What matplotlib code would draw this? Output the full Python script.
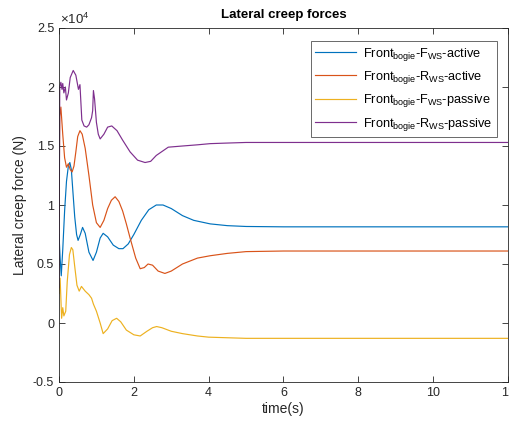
import numpy as np
import matplotlib
matplotlib.use('Agg')
import matplotlib.pyplot as plt

plt.rcParams['font.family'] = ['Liberation Sans', 'DejaVu Sans']
plt.rcParams['mathtext.fontset'] = 'custom'
plt.rcParams['mathtext.rm'] = 'Liberation Sans'
plt.rcParams['mathtext.it'] = 'Liberation Sans'
plt.rcParams['axes.unicode_minus'] = False

# values in units of 1e4 N
t_f_act = [0, 0.03, 0.06, 0.1, 0.15, 0.2, 0.25, 0.29, 0.33, 0.37, 0.42, 0.47, 0.51, 0.57,
           0.63, 0.7, 0.8, 0.91, 1.0, 1.1, 1.18, 1.3, 1.45, 1.6, 1.71, 1.85, 2.0, 2.2, 2.4,
           2.6, 2.78, 3.0, 3.3, 3.6, 4.04, 4.5, 5.0, 6, 8, 10, 12]
f_act = [0.75, 0.55, 0.40, 0.62, 0.95, 1.2, 1.33, 1.36, 1.30, 1.12, 0.90, 0.75, 0.70, 0.75,
         0.81, 0.76, 0.60, 0.53, 0.60, 0.72, 0.76, 0.73, 0.66, 0.63, 0.63, 0.67, 0.75, 0.87, 0.96,
         1.0, 1.0, 0.97, 0.91, 0.87, 0.84, 0.825, 0.818, 0.815, 0.815, 0.815, 0.815]

t_r_act = [0, 0.02, 0.05, 0.1, 0.15, 0.2, 0.25, 0.3, 0.35, 0.4, 0.45, 0.5, 0.56, 0.62, 0.7,
           0.8, 0.9, 1.0, 1.1, 1.2, 1.3, 1.4, 1.5, 1.6, 1.7, 1.8, 1.9, 2.05, 2.17, 2.28, 2.38,
           2.5, 2.65, 2.83, 3.0, 3.3, 3.7, 4.04, 4.5, 5.0, 6, 8, 10, 12]
r_act = [0.9, 1.75, 1.83, 1.6, 1.4, 1.32, 1.35, 1.30, 1.28, 1.33, 1.45, 1.58, 1.63, 1.60, 1.48,
         1.25, 1.00, 0.85, 0.81, 0.87, 0.97, 1.04, 1.07, 1.03, 0.95, 0.84, 0.72, 0.55, 0.46, 0.47,
         0.50, 0.49, 0.44, 0.42, 0.44, 0.50, 0.55, 0.57, 0.59, 0.605, 0.61, 0.61, 0.61, 0.61]

t_f_pas = [0, 0.03, 0.07, 0.1, 0.13, 0.18, 0.22, 0.28, 0.33, 0.37, 0.42, 0.48, 0.54, 0.6, 0.7,
           0.8, 0.87, 0.92, 1.0, 1.1, 1.18, 1.3, 1.42, 1.54, 1.65, 1.8, 2.0, 2.17, 2.35, 2.5,
           2.61, 2.75, 3.0, 3.3, 3.7, 4.0, 4.5, 5, 6, 8, 10, 12]
f_pas = [0.25, 0.38, 0.04, 0.13, 0.06, 0.10, 0.35, 0.58, 0.64, 0.62, 0.48, 0.32, 0.27, 0.31, 0.27,
         0.24, 0.21, 0.16, 0.10, 0.0, -0.09, -0.05, 0.02, 0.04, 0.01, -0.06, -0.10, -0.11, -0.07,
         -0.04, -0.03, -0.04, -0.07, -0.09, -0.11, -0.12, -0.125, -0.13, -0.13, -0.13, -0.13, -0.13]

t_r_pas = [0, 0.02, 0.05, 0.08, 0.1, 0.13, 0.17, 0.2, 0.25, 0.3, 0.38, 0.45, 0.52, 0.56, 0.58,
           0.61, 0.67, 0.74, 0.8, 0.87, 0.9, 0.92, 0.95, 1.0, 1.05, 1.1, 1.2, 1.3, 1.41, 1.55,
           1.7, 1.9, 2.1, 2.3, 2.45, 2.6, 2.92, 3.3, 3.7, 4.04, 4.5, 5, 6, 8, 10, 12]
r_pas = [0.3, 2.0, 2.04, 1.98, 2.03, 1.95, 2.0, 1.89, 1.95, 2.08, 2.14, 2.10, 1.98, 2.02, 1.90,
         1.72, 1.67, 1.66, 1.68, 1.74, 1.80, 1.97, 1.90, 1.70, 1.60, 1.56, 1.60, 1.66, 1.67, 1.63,
         1.55, 1.45, 1.38, 1.36, 1.37, 1.42, 1.49, 1.50, 1.51, 1.52, 1.525, 1.53, 1.53, 1.53, 1.53, 1.53]

labels = [r'Front$_{\mathrm{bogie}}$-F$_{\mathrm{WS}}$-active',
          r'Front$_{\mathrm{bogie}}$-R$_{\mathrm{WS}}$-active',
          r'Front$_{\mathrm{bogie}}$-F$_{\mathrm{WS}}$-passive',
          r'Front$_{\mathrm{bogie}}$-R$_{\mathrm{WS}}$-passive']
colors = ['#0072BD', '#D95319', '#EDB120', '#7E2F8E']
yticks = [-0.5, 0, 0.5, 1, 1.5, 2, 2.5]
xticks = [0, 2, 4, 6, 8, 10, 12]

fig = plt.figure(figsize=(5.1, 4.28), dpi=100)
ax = fig.add_axes([59/510, 46/428, 449/510, 354/428])

series = [(t_f_act, f_act), (t_r_act, r_act), (t_f_pas, f_pas), (t_r_pas, r_pas)]
for (tt, vv), c, lab in zip(series, colors, labels):
    ax.plot(tt, vv, color=c, linewidth=0.85, label=lab)

ax.set_xlim(0, 12)
ax.set_ylim(-0.5, 2.5)
ax.set_xticks(xticks)
ax.set_yticks(yticks)
ax.set_xticklabels(['%g' % v for v in xticks])
ax.set_yticklabels(['%g' % v for v in yticks])
ax.tick_params(direction='in', top=True, right=True, labelsize=9, colors='#262626',
               length=4, width=0.6)
for s in ax.spines.values():
    s.set_color('#262626')
    s.set_linewidth(0.6)

ax.text(0.003, 1.003, r'$\times10^{4}$', transform=ax.transAxes, ha='left', va='bottom',
        fontsize=9.5, color='#262626')
ax.set_title('Lateral creep forces', fontsize=9.5, fontweight='bold', pad=7)
ax.set_xlabel('time(s)', fontsize=10, color='#262626', labelpad=2)
ax.set_ylabel('Lateral creep force (N)', fontsize=10, color='#262626', labelpad=4)

leg = ax.legend(loc='upper right', bbox_to_anchor=(0.975, 0.963), borderaxespad=0,
                fontsize=9.2, fancybox=False, handlelength=3.2, handletextpad=0.55,
                labelspacing=0.5, borderpad=0.35)
leg.get_frame().set_edgecolor('#262626')
leg.get_frame().set_linewidth(0.6)

fig.savefig('out.png', dpi=100)
